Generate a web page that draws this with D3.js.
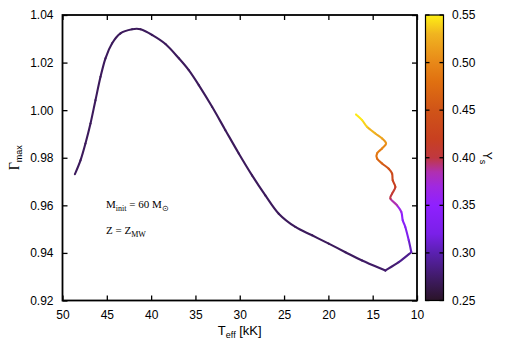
<!DOCTYPE html>
<html>
<head>
<meta charset="utf-8">
<script src="https://cdn.jsdelivr.net/npm/d3@7"></script>
<style>
body{margin:0;background:#fff}
text{font-family:"Liberation Sans",Arial,sans-serif}
</style>
</head>
<body>
<div id="chart"></div>
<script>
// effective temperature [kK], Gamma_max and surface helium Ys along the track
var teff = [48.60,47.97,47.41,46.84,46.28,45.71,45.15,44.4,43.46,42.14,41.20,39.88,38.38,36.87,35.75,34.62,33.12,31.62,30.11,28.61,27.11,25.60,23.72,21.84,19.96,18.08,16.20,13.57,12.06,10.64,
            10.93,11.32,11.61,11.77,12.25,13.0,12.81,12.44,12.74,12.81,13.19,13.94,14.51,14.51,13.94,13.49,13.94,14.70,15.64,16.20,16.88]
var gammaMax = [0.9731,0.9789,0.9860,0.9944,1.0042,1.0140,1.0218,1.0281,1.0323,1.0340,1.0340,1.0316,1.0278,1.0218,1.0168,1.0105,1.0014,0.9916,0.9818,0.9726,0.9642,0.9565,0.9509,0.9474,0.9439,0.9403,0.9368,0.9326,0.9361,0.9403,
            0.9453,0.9509,0.9537,0.9572,0.9600,0.9628,0.9649,0.9677,0.9705,0.9733,0.9754,0.9776,0.9797,0.9818,0.9839,0.9860,0.9881,0.9902,0.9930,0.9958,0.9982]
var ys = [0.27,0.27,0.27,0.27,0.27,0.27,0.27,0.27,0.27,0.27,0.27,0.27,0.27,0.27,0.27,0.27,0.27,0.27,0.27,0.27,0.27,0.27,0.27,0.27,0.27,0.27,0.272,0.275,0.28,0.295,
          0.32,0.335,0.345,0.355,0.375,0.395,0.405,0.415,0.425,0.435,0.445,0.46,0.475,0.485,0.495,0.505,0.515,0.525,0.535,0.545,0.55]
var corners = [27,29]   // sharp turns of the track

var xTicks = [50,45,40,35,30,25,20,15,10]
var yTicks = [0.92,0.94,0.96,0.98,1.00,1.02,1.04]
var cbTicks = [0.25,0.30,0.35,0.40,0.45,0.50,0.55]

// palette stops (Ys -> colour)
var palVals = [0.25,0.27,0.30,0.32,0.35,0.37,0.385,0.40,0.42,0.45,0.48,0.50,0.53,0.55]
var palCols = ["#2a1428","#3c1a5c","#5a20b0","#7a20e8","#8f20ff","#a028e0","#b030b0","#c03840","#c84020","#d05418","#e07010","#e88818","#f0b420","#fff014"]

var W = 506, H = 354
var m = {left:62.5, right:89, top:15, bottom:53.5}
var pw = W - m.left - m.right, ph = H - m.top - m.bottom

var svg = d3.select('#chart').append('svg').attr('width',W).attr('height',H)
var g = svg.append('g').attr('transform',`translate(${m.left},${m.top})`)

var x = d3.scaleLinear().domain([50,10]).range([0,pw])
var y = d3.scaleLinear().domain([0.92,1.04]).range([ph,0])
var col = d3.scaleLinear().domain(palVals).range(palCols)

// coloured track: each segment is a Catmull-Rom piece so the whole curve stays smooth
var P = teff.map((t,i)=>[x(t), y(gammaMax[i])])
var n = P.length
for(var i=0;i<n-1;i++){
    var p1 = P[i], p2 = P[i+1]
    var p0 = (i>0 && corners.indexOf(i)<0) ? P[i-1] : p1
    var p3 = (i+2<n && corners.indexOf(i+1)<0) ? P[i+2] : p2
    var c1 = [p1[0]+(p2[0]-p0[0])/6, p1[1]+(p2[1]-p0[1])/6]
    var c2 = [p2[0]-(p3[0]-p1[0])/6, p2[1]-(p3[1]-p1[1])/6]
    var path = d3.path()
    path.moveTo(p1[0],p1[1])
    path.bezierCurveTo(c1[0],c1[1],c2[0],c2[1],p2[0],p2[1])
    g.append('path')
        .attr('d', path.toString())
        .attr('fill','none')
        .attr('stroke', col((ys[i]+ys[i+1])/2))
        .attr('stroke-width',2.1)
        .attr('stroke-linecap','round')
}

// axes with inward ticks on all sides
var fmtY = d3.format('.2f')
g.append('g').attr('transform',`translate(0,${ph})`)
    .call(d3.axisBottom(x).tickValues(xTicks).tickSize(-5).tickPadding(9.5).tickFormat(d3.format('d')))
g.append('g').call(d3.axisTop(x).tickValues(xTicks).tickSize(-5).tickFormat(''))
g.append('g').call(d3.axisLeft(y).tickValues(yTicks).tickSize(-5).tickPadding(9).tickFormat(fmtY))
g.append('g').attr('transform',`translate(${pw},0)`)
    .call(d3.axisRight(y).tickValues(yTicks).tickSize(-5).tickFormat(''))
g.selectAll('.domain').remove()
g.selectAll('.tick line').attr('stroke','#000').attr('stroke-width',1.3)
g.selectAll('.tick text').attr('font-size',12).attr('fill','#000')
g.append('rect').attr('width',pw).attr('height',ph).attr('fill','none').attr('stroke','#000').attr('stroke-width',1.8)

// axis titles
svg.append('text').attr('x',m.left+pw/2).attr('y',335).attr('text-anchor','middle').attr('font-size',13)
    .html('T<tspan font-size="9" dy="3">eff</tspan><tspan dy="-3"> [kK]</tspan>')
svg.append('text').attr('transform',`translate(19,${m.top+ph/2}) rotate(-90)`).attr('text-anchor','middle')
    .html('<tspan font-family="Liberation Serif,Times New Roman,serif" font-size="14">Γ</tspan><tspan font-size="9" dy="3">max</tspan>')

// annotation
var ann = svg.append('g')
ann.append('text').attr('x',106).attr('y',207.5).attr('font-size',11).style('font-family','Liberation Serif,serif')
    .html('M<tspan font-size="8" dy="3">init</tspan><tspan dy="-3"> = 60 M</tspan><tspan font-size="8" dy="3">⊙</tspan>')
ann.append('text').attr('x',106).attr('y',234).attr('font-size',11).style('font-family','Liberation Serif,serif')
    .html('Z = Z<tspan font-size="8" dy="3">MW</tspan>')

// colour bar
var cbX = 425.5, cbW = 18
var cy = d3.scaleLinear().domain([0.25,0.55]).range([m.top+ph, m.top])
var defs = svg.append('defs')
var grad = defs.append('linearGradient').attr('id','cbg').attr('x1',0).attr('y1',1).attr('x2',0).attr('y2',0)
palVals.forEach((v,i)=>{
    grad.append('stop').attr('offset',(v-0.25)/0.30).attr('stop-color',palCols[i])
})
svg.append('rect').attr('x',cbX).attr('y',m.top).attr('width',cbW).attr('height',ph)
    .attr('fill','url(#cbg)').attr('stroke','#000').attr('stroke-width',1.2)
var cb = svg.append('g')
cbTicks.forEach(v=>{
    cb.append('line').attr('x1',cbX).attr('x2',cbX+4).attr('y1',cy(v)).attr('y2',cy(v)).attr('stroke','#000').attr('stroke-width',1.3)
    cb.append('line').attr('x1',cbX+cbW-4).attr('x2',cbX+cbW).attr('y1',cy(v)).attr('y2',cy(v)).attr('stroke','#000').attr('stroke-width',1.3)
    cb.append('text').attr('x',452).attr('y',cy(v)+4).attr('font-size',12).text(fmtY(v))
})
svg.append('text').attr('transform',`translate(483,158) rotate(90)`).attr('text-anchor','middle').attr('font-size',12)
    .html('Y<tspan font-size="9" dy="3">s</tspan>')
</script>
</body>
</html>
